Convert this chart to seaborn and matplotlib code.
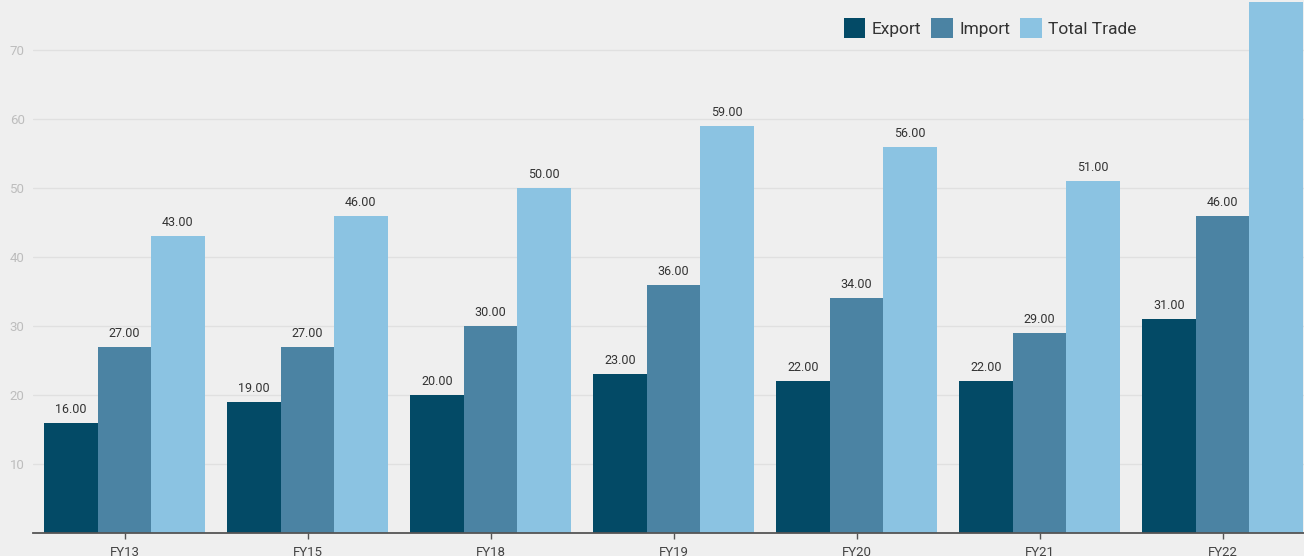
import matplotlib
matplotlib.use("Agg")
import matplotlib.pyplot as plt
import seaborn as sns
import pandas as pd
from matplotlib.patches import Patch

years = ["FY13", "FY15", "FY18", "FY19", "FY20", "FY21", "FY22"]
export = [16, 19, 20, 23, 22, 22, 31]
imports = [27, 27, 30, 36, 34, 29, 46]
total_trade = [43, 46, 50, 59, 56, 51, 77]
series = ["Export", "Import", "Total Trade"]
colors = ["#034a66", "#4b83a3", "#8bc3e2"]
y_ticks = [10, 20, 30, 40, 50, 60, 70]

df = pd.DataFrame({
    "year": years * 3,
    "value": export + imports + total_trade,
    "series": [s for s in series for _ in years],
})

sns.set_theme(style="white")
plt.rcParams["font.family"] = ["Roboto", "DejaVu Sans"]

W, H = 1304, 556
fig = plt.figure(figsize=(W / 100, H / 100), dpi=100, facecolor="#efefef")
# axes extends slightly past the canvas on the top and right
left_px, right_px, zero_px, top_px = 33, 1314, 533, -19
ax = fig.add_axes([left_px / W, (H - zero_px) / H,
                   (right_px - left_px) / W, (zero_px - top_px) / H])
ax.set_facecolor("#efefef")

sns.barplot(data=df, x="year", y="value", hue="series", order=years,
            hue_order=series, palette=colors, width=0.875, gap=0,
            saturation=1, ax=ax, legend=False, errorbar=None)

# visible part of the value range (canvas top edge)
visible_top = 80 * (zero_px) / (zero_px - top_px)
for cont in ax.containers:
    for bar in cont:
        bar.set_edgecolor("none")
        bar.set_linewidth(0)
    labels = [f"{b.get_height():.2f}" if b.get_height() < visible_top - 3 else ""
              for b in cont]
    ax.bar_label(cont, labels=labels, padding=5, fontsize=9, color="#333333")

ax.set_xlim(-0.5, 6.5)
ax.set_ylim(0, 80)
ax.set_yticks(y_ticks)
ax.set_yticklabels([str(v) for v in y_ticks])
ax.grid(axis="y", color="#e0e0e0", linewidth=1)
ax.set_axisbelow(True)
for side in ["top", "right", "left"]:
    ax.spines[side].set_visible(False)
ax.spines["bottom"].set_color("#555555")
ax.spines["bottom"].set_linewidth(1.3)
ax.tick_params(axis="y", length=0, labelsize=9.5, labelcolor="#bdbdbd", pad=6)
ax.tick_params(axis="x", length=4, width=1, color="#555555", labelsize=9.5,
               labelcolor="#444444", pad=5, bottom=True)
ax.set_xlabel("")
ax.set_ylabel("")

handles = [Patch(facecolor=c, edgecolor="none", label=s) for s, c in zip(series, colors)]
fig.legend(handles=handles, loc="upper left", bbox_to_anchor=(828 / W, 1 - 2 / H),
           ncol=3, frameon=False, fontsize=12.5, handlelength=1.25, handleheight=1.45,
           handletextpad=0.35, columnspacing=0.6, labelcolor="#333333")

fig.savefig("out.png", dpi=100, facecolor=fig.get_facecolor())
